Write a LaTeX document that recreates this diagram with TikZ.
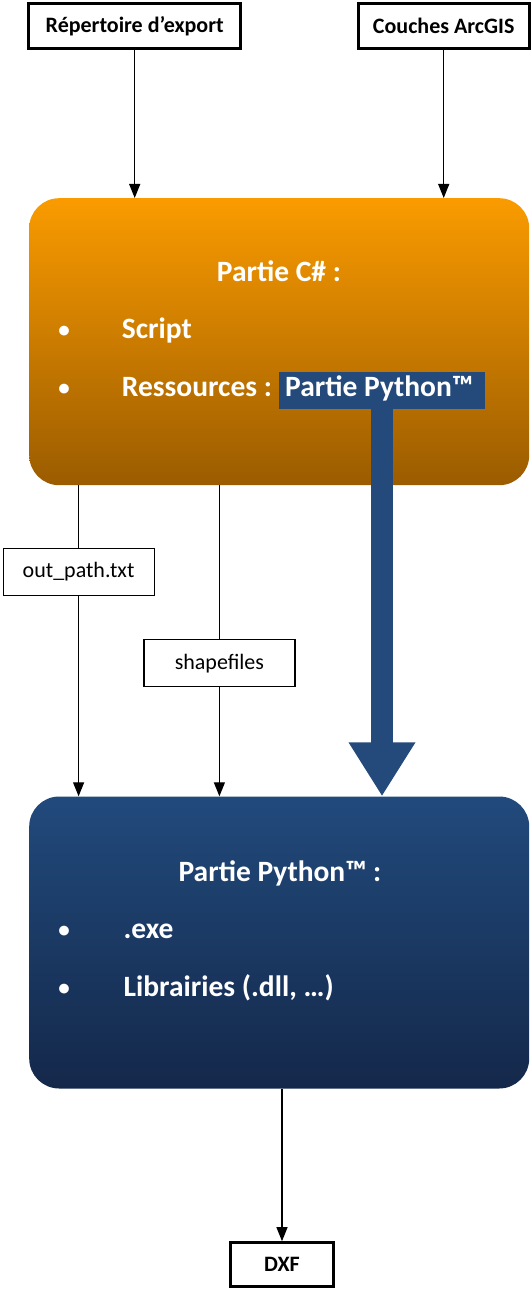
\documentclass[tikz,border=0pt]{standalone}
\usepackage{fontspec}
\setmainfont{Carlito}
\usetikzlibrary{arrows.meta}
\definecolor{orTop}{RGB}{250,155,0}
\definecolor{orBot}{RGB}{155,92,0}
\definecolor{blTop}{RGB}{33,74,124}
\definecolor{blBot}{RGB}{20,40,74}
\definecolor{hl}{RGB}{35,74,123}
\begin{document}
\begin{tikzpicture}[x=1pt,y=-1pt,
  inbox/.style={draw,line width=2.6pt,font=\fontsize{22}{26}\selectfont\bfseries,inner sep=0pt},
  lblbox/.style={draw,fill=white,line width=1.2pt,font=\fontsize{22}{26}\selectfont,inner sep=0pt},
  bigbox/.style={rounded corners=30pt,inner sep=0pt},
  link/.style={line width=1.2pt,-{Triangle[width=11pt,length=14pt]}},
  plainline/.style={line width=1.2pt},
  big/.style={text=white,font=\fontsize{29.5}{34}\selectfont\bfseries,inner sep=0pt},
  bul/.style={text=white,font=\fontsize{23}{26}\selectfont\bfseries,inner sep=0pt,anchor=base},
  bigarrow/.style={hl,line width=22pt,-{Triangle[width=63pt,length=54pt]}}]
\useasboundingbox (0,0) rectangle (530,1289);
% boxes
\node[inbox,minimum width=212pt,minimum height=45pt] (rep) at (134.7,26) {Répertoire d’export};
\node[inbox,minimum width=171pt,minimum height=45pt] (arc) at (443.7,26) {Couches ArcGIS};
\node[bigbox,top color=orTop,bottom color=orBot,minimum width=500pt,minimum height=287pt] (cs) at (279.2,341.7) {};
\node[bigbox,top color=blTop,bottom color=blBot,minimum width=500pt,minimum height=292pt] (py) at (279.2,942.5) {};
\node[lblbox,minimum width=151pt,minimum height=47pt] (outp) at (78.6,571.7) {out\_path.txt};
\node[lblbox,minimum width=151pt,minimum height=47pt] (shp) at (219.4,663.3) {shapefiles};
\node[inbox,minimum width=103pt,minimum height=44pt] (dxf) at (282,1264.5) {DXF};
% C# box text
\node[big,anchor=base] (ctit) at (279,281.7) {Partie C\# :};
\node[bul] (cb1) at (64.2,337) {•};
\node[big,anchor=base west] (cscr) at (121.7,338) {Script};
\node[bul] (cb2) at (64.2,395.3) {•};
\node[big,anchor=base west] (cres) at (121.7,396.7) {Ressources :};
\node[fill=hl,minimum width=206pt,minimum height=37pt,inner sep=0pt] (pyres) at (382,390.3) {};
\node[big,anchor=base west] (pyrest) at (285,396.7) {Partie Python™};
% Python box text
\node[big,anchor=base] (ptit) at (280,881.7) {Partie Python™ :};
\node[bul] (pb1) at (64.2,937.2) {•};
\node[big,anchor=base west] (pexe) at (123.4,938.3) {.exe};
\node[bul] (pb2) at (64.2,995.3) {•};
\node[big,anchor=base west] (plib) at (123.4,996.7) {Librairies (.dll, …)};
% connectors
\draw[link] (rep.south) -- (rep.south |- cs.north);
\draw[link] (arc.south) -- (arc.south |- cs.north);
\draw[plainline] (outp.north |- cs.south) -- (outp.north);
\draw[link] (outp.south) -- (outp.south |- py.north);
\draw[plainline] (shp.north |- cs.south) -- (shp.north);
\draw[link] (shp.south) -- (shp.south |- py.north);
\draw[bigarrow] (pyres.south) -- (pyres.south |- py.north);
\draw[link] (py.south -| dxf.north) -- (dxf.north);
\end{tikzpicture}
\end{document}
